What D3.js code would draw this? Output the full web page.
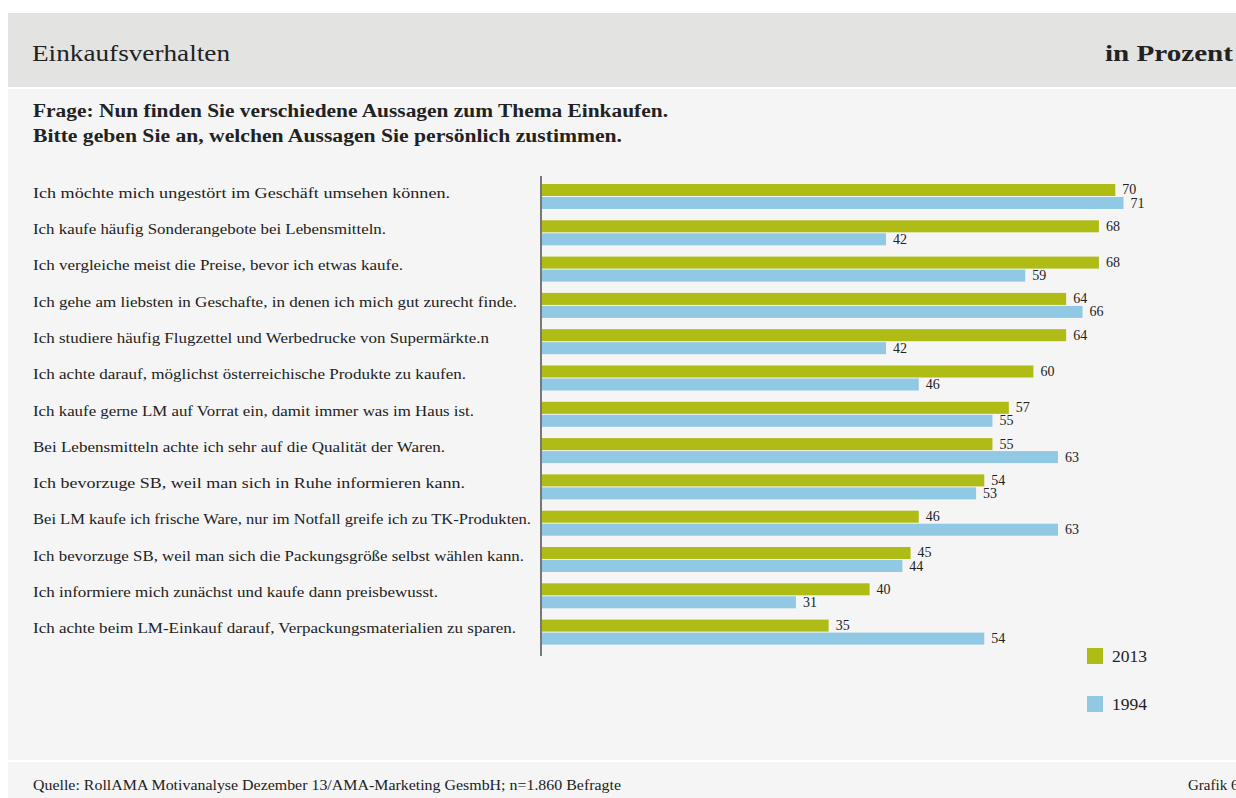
<!DOCTYPE html>
<html>
<head>
<meta charset="utf-8">
<script src="https://cdn.jsdelivr.net/npm/d3@7"></script>
<style>
  html, body { margin: 0; padding: 0; background: #ffffff; }
  svg { display: block; font-family: 'Liberation Serif', 'DejaVu Serif', serif; }
</style>
</head>
<body>
<div id="chart"></div>
<script>
const categories = [
    'Ich möchte mich ungestört im Geschäft umsehen können.',
    'Ich kaufe häufig Sonderangebote bei Lebensmitteln.',
    'Ich vergleiche meist die Preise, bevor ich etwas kaufe.',
    'Ich gehe am liebsten in Geschafte, in denen ich mich gut zurecht finde.',
    'Ich studiere häufig Flugzettel und Werbedrucke von Supermärkte.n',
    'Ich achte darauf, möglichst österreichische Produkte zu kaufen.',
    'Ich kaufe gerne LM auf Vorrat ein, damit immer was im Haus ist.',
    'Bei Lebensmitteln achte ich sehr auf die Qualität der Waren.',
    'Ich bevorzuge SB, weil man sich in Ruhe informieren kann.',
    'Bei LM kaufe ich frische Ware, nur im Notfall greife ich zu TK-Produkten.',
    'Ich bevorzuge SB, weil man sich die Packungsgröße selbst wählen kann.',
    'Ich informiere mich zunächst und kaufe dann preisbewusst.',
    'Ich achte beim LM-Einkauf darauf, Verpackungsmaterialien zu sparen.'
];
const seriesNames = ['2013', '1994'];
const values2013 = [70, 68, 68, 64, 64, 60, 57, 55, 54, 46, 45, 40, 35];
const values1994 = [71, 42, 59, 66, 42, 46, 55, 63, 53, 63, 44, 31, 54];

// rendered label widths in the original typeface (layout only)
const labelWidths = [417, 353, 370, 484, 456, 433, 441, 412, 432, 498, 491, 405, 483];

const width = 1236;
const height = 798;
const colors = { '2013': '#aebc15', '1994': '#91c8e4' };
const textColor = '#222222';

const data = categories.map((c, i) => ({
    label: c,
    values: [
        { key: '2013', value: values2013[i] },
        { key: '1994', value: values1994[i] }
    ]
}));

const svg = d3.select('#chart')
  .append('svg')
    .attr('width', width)
    .attr('height', height);

// background panels
svg.append('rect').attr('x', 8).attr('y', 13).attr('width', width - 8).attr('height', 74).attr('fill', '#e3e3e2');
svg.append('rect').attr('x', 8).attr('y', 89).attr('width', width - 8).attr('height', 671).attr('fill', '#f5f5f5');
svg.append('rect').attr('x', 8).attr('y', 762).attr('width', width - 8).attr('height', 36).attr('fill', '#f5f5f5');

// header
svg.append('text')
    .attr('x', 32).attr('y', 61)
    .attr('font-size', 24)
    .attr('fill', textColor)
    .attr('textLength', 198).attr('lengthAdjust', 'spacingAndGlyphs')
    .text('Einkaufsverhalten');

svg.append('text')
    .attr('x', 1233).attr('y', 61)
    .attr('text-anchor', 'end')
    .attr('font-size', 24)
    .attr('font-weight', 'bold')
    .attr('fill', textColor)
    .attr('textLength', 128).attr('lengthAdjust', 'spacingAndGlyphs')
    .text('in Prozent');

// question
const question = [
    { t: 'Frage: Nun finden Sie verschiedene Aussagen zum Thema Einkaufen.', w: 635, y: 117 },
    { t: 'Bitte geben Sie an, welchen Aussagen Sie persönlich zustimmen.', w: 589, y: 142 }
];
svg.selectAll('.question')
    .data(question)
  .enter()
  .append('text')
    .attr('class', 'question')
    .attr('x', 33)
    .attr('y', d => d.y)
    .attr('font-size', 18)
    .attr('font-weight', 'bold')
    .attr('fill', textColor)
    .attr('textLength', d => d.w).attr('lengthAdjust', 'spacingAndGlyphs')
    .text(d => d.t);

// scales
const x = d3.scaleLinear()
    .domain([0, 100])
    .range([542, 542 + 819]);

const y = d3.scaleBand()
    .domain(categories)
    .range([180, 180 + 13 * 36.3]);

const ySeries = d3.scaleBand()
    .domain(seriesNames)
    .range([4, 29])
    .paddingInner(0.077);

// category labels
svg.append('g').attr('class', 'category-labels')
    .selectAll('text')
    .data(categories)
  .enter()
  .append('text')
    .attr('x', 33)
    .attr('y', d => y(d) + 17.7)
    .attr('font-size', 15.5)
    .attr('fill', textColor)
    .attr('textLength', (d, i) => labelWidths[i])
    .attr('lengthAdjust', 'spacingAndGlyphs')
    .text(d => d);

// bars
const groups = svg.append('g').attr('class', 'chart-group')
    .selectAll('g')
    .data(data)
  .enter()
  .append('g')
    .attr('transform', d => `translate(0, ${y(d.label)})`);

groups.selectAll('rect')
    .data(d => d.values)
  .enter()
  .append('rect')
    .attr('x', x(0))
    .attr('y', d => ySeries(d.key))
    .attr('width', d => x(d.value) - x(0))
    .attr('height', ySeries.bandwidth())
    .attr('fill', d => colors[d.key]);

groups.selectAll('.value-label')
    .data(d => d.values)
  .enter()
  .append('text')
    .attr('class', 'value-label')
    .attr('x', d => x(d.value) + 7)
    .attr('y', d => ySeries(d.key) + ySeries.bandwidth() / 2 + 4.5)
    .attr('font-size', 14)
    .attr('fill', textColor)
    .text(d => d.value);

// axis line
svg.append('line')
    .attr('x1', 541).attr('x2', 541)
    .attr('y1', 176).attr('y2', 656)
    .attr('stroke', '#333')
    .attr('stroke-width', 1.3);

// legend
const legend = svg.append('g').attr('class', 'legend')
    .selectAll('g')
    .data(seriesNames)
  .enter()
  .append('g')
    .attr('transform', (d, i) => `translate(1087, ${648 + i * 48})`);

legend.append('rect')
    .attr('width', 16)
    .attr('height', 16)
    .attr('fill', d => colors[d]);

legend.append('text')
    .attr('x', 25)
    .attr('y', 14)
    .attr('font-size', 17.5)
    .attr('fill', textColor)
    .text(d => d);

// footer
svg.append('text')
    .attr('x', 33).attr('y', 790)
    .attr('font-size', 15)
    .attr('fill', textColor)
    .attr('textLength', 588).attr('lengthAdjust', 'spacingAndGlyphs')
    .text('Quelle: RollAMA Motivanalyse Dezember 13/AMA-Marketing GesmbH; n=1.860 Befragte');

svg.append('text')
    .attr('x', 1188).attr('y', 790)
    .attr('font-size', 15)
    .attr('fill', textColor)
    .text('Grafik 6');
</script>
</body>
</html>
